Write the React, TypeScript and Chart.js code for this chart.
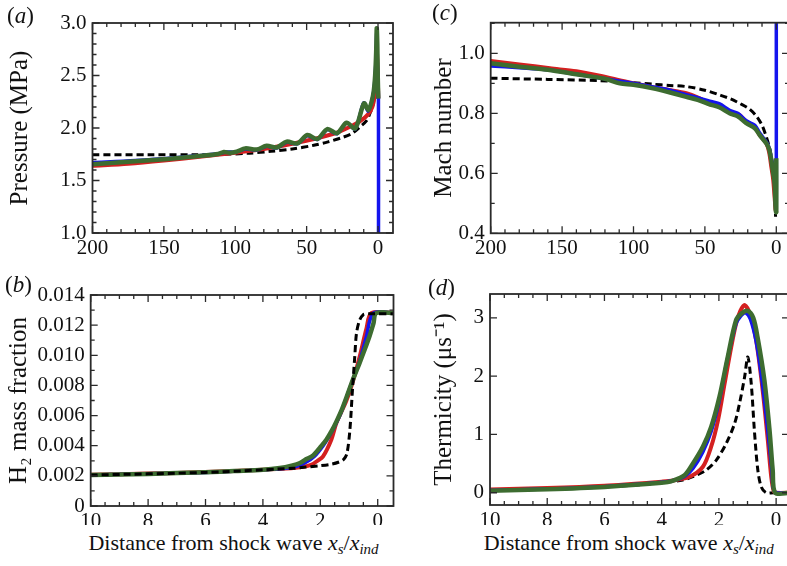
import React, { useEffect, useRef } from "react";
import { Chart, registerables } from "chart.js";
Chart.register(...registerables);

// ---------- colours ----------
const RED = "#d42020";
const BLUE = "#1414ee";
const GREEN = "#3d6c30";
const BLACK = "#000000";
const SERIF = "Liberation Serif";

// ---------- (a) pressure ----------
const pGreenX = [200, 185, 170, 155, 140, 125, 112, 108, 104, 99, 93, 85, 78, 71, 64, 56.5, 49.5, 42.5, 35.5, 28.8, 22, 16, 9.8, 6.8, 4.5, 3, 2, 1.3, 0.9, 0.5, 0.2, -0.2];
const pGreenY = [1.655, 1.668, 1.683, 1.698, 1.714, 1.733, 1.752, 1.772, 1.764, 1.775, 1.806, 1.795, 1.83, 1.814, 1.87, 1.853, 1.933, 1.895, 1.99, 1.95, 2.05, 1.995, 2.235, 2.17, 2.25, 2.35, 2.5, 2.72, 2.95, 2.8, 2.5, 2.28];
const pBlueX = [200, 170, 140, 112, 106, 100, 93, 85, 78, 71, 64, 56.5, 49.5, 42.5, 35.5, 28.8, 22, 16, 10, 7, 4.5, 3, 2, 1.3, 0.9, 0.4, -0.3, -0.3];
const pBlueY = [1.67, 1.69, 1.72, 1.755, 1.772, 1.77, 1.8, 1.79, 1.825, 1.81, 1.865, 1.85, 1.925, 1.89, 1.985, 1.945, 2.05, 1.99, 2.24, 2.16, 2.25, 2.35, 2.5, 2.7, 2.9, 2.6, 2.28, 0.5];
const pRedX = [200, 175, 150, 125, 100, 80, 60, 45, 30, 20, 12, 7, 4, 2.5, 1.5, 0.9, 0.4, -0.2];
const pRedY = [1.64, 1.66, 1.69, 1.725, 1.765, 1.8, 1.85, 1.895, 1.95, 2.01, 2.07, 2.13, 2.2, 2.3, 2.5, 2.75, 2.6, 2.28];
const pBlackX = [200, 160, 130, 110, 90, 75, 60, 45, 35, 25, 18, 12.6, 8, 5.6, 3.5, 2.1, 1.2, 0.5, 0];
const pBlackY = [1.745, 1.745, 1.746, 1.748, 1.76, 1.778, 1.8, 1.835, 1.868, 1.91, 1.95, 2.01, 2.07, 2.14, 2.22, 2.33, 2.42, 2.5, 2.5];

// ---------- (c) Mach number ----------
const mRedX = [200, 180, 158.5, 140, 123.6, 105, 88.6, 75, 63, 53.6, 46.6, 40, 32.7, 26, 21, 15, 11.7, 7, 5, 3.5, 2.2, 1.2, 0.5, 0];
const mRedY = [0.974, 0.963, 0.95, 0.94, 0.925, 0.905, 0.889, 0.878, 0.867, 0.85, 0.83, 0.825, 0.805, 0.795, 0.772, 0.755, 0.728, 0.7, 0.67, 0.622, 0.58, 0.522, 0.48, 0.47];
const mGreenX = [200, 180, 160, 140, 120, 109.6, 100, 86.3, 75, 63, 55, 46.6, 40, 32.7, 27, 21, 15, 11.7, 7, 5, 3.5, 2.2, 1.2, 0.4, 0, 0];
const mGreenY = [0.967, 0.955, 0.945, 0.93, 0.915, 0.9, 0.895, 0.883, 0.87, 0.855, 0.845, 0.83, 0.82, 0.8, 0.79, 0.767, 0.75, 0.728, 0.7, 0.68, 0.644, 0.6, 0.567, 0.478, 0.47, 0.65];
const mBlueX = [200, 180, 160, 140, 120, 100, 86.3, 75, 63, 55, 46.6, 40, 32.7, 27, 21, 15, 11.7, 7, 5, 3.5, 1.2, 0.3, 0, 0];
const mBlueY = [0.958, 0.952, 0.945, 0.93, 0.915, 0.9, 0.888, 0.878, 0.862, 0.852, 0.84, 0.832, 0.81, 0.8, 0.775, 0.76, 0.735, 0.705, 0.685, 0.65, 0.57, 0.48, 0.48, 1.15];
const mBlackX = [200, 160, 123.6, 100, 86.3, 75, 62.9, 50, 39.6, 32, 25.6, 19, 14, 10, 7, 5, 3.5, 2, 1.2, 0.5];
const mBlackY = [0.917, 0.913, 0.909, 0.902, 0.897, 0.893, 0.889, 0.877, 0.861, 0.848, 0.833, 0.815, 0.791, 0.76, 0.722, 0.69, 0.655, 0.61, 0.567, 0.455];

// ---------- (b) H2 mass fraction ----------
const hGreenX = [10, 8, 6, 5, 4, 3.41, 3, 2.71, 2.5, 2.25, 2, 1.79, 1.6, 1.44, 1.25, 1.09, 0.86, 0.63, 0.45, 0.28, 0.15, 0.05, -0.6];
const hGreenY = [0.00205, 0.00213, 0.00224, 0.00232, 0.0024, 0.00252, 0.00268, 0.00285, 0.0031, 0.00335, 0.0039, 0.0044, 0.005, 0.0056, 0.0064, 0.0072, 0.0084, 0.0095, 0.0104, 0.0113, 0.0121, 0.0128, 0.0128];
const hRedX = [10, 8, 6, 4, 3.2, 2.6, 2.3, 2.1, 1.91, 1.62, 1.44, 1.09, 0.86, 0.63, 0.39, 0.22, -0.6];
const hRedY = [0.00207, 0.00215, 0.00225, 0.0024, 0.00248, 0.0026, 0.00275, 0.003, 0.00327, 0.00438, 0.0055, 0.007, 0.0083, 0.0099, 0.0118, 0.0128, 0.0128];
const hBlueX = [10, 6, 4, 3.2, 2.8, 2.5, 2.2, 1.9, 1.7, 1.5, 1.3, 1.09, 0.86, 0.63, 0.4, 0.15, -0.6];
const hBlueY = [0.00205, 0.00223, 0.0024, 0.0025, 0.00265, 0.0029, 0.0033, 0.004, 0.0046, 0.0053, 0.0061, 0.0072, 0.0084, 0.0096, 0.0112, 0.0128, 0.0128];
const hBlackX = [10, 6, 4, 3.5, 2.95, 2.5, 2.02, 1.6, 1.32, 1.18, 1.07, 0.97, 0.88, 0.8, 0.74, 0.63, 0.5, 0.39, 0.2, -0.6];
const hBlackY = [0.00205, 0.00223, 0.0024, 0.00245, 0.0025, 0.00258, 0.00267, 0.00278, 0.00294, 0.0031, 0.0035, 0.00504, 0.0077, 0.0099, 0.01146, 0.01234, 0.0127, 0.01275, 0.01275, 0.01275];

// ---------- (d) thermicity ----------
const tRedX = [10, 8, 6, 4, 3.6, 3.02, 2.56, 2.27, 2.03, 1.8, 1.57, 1.4, 1.25, 1.1, 0.9, 0.7, 0.47, 0.29, 0.17, 0.08, 0, -0.5];
const tRedY = [0.058, 0.08, 0.12, 0.19, 0.21, 0.275, 0.446, 0.79, 1.246, 1.875, 2.5, 2.9, 3.12, 3.22, 3.05, 2.62, 1.76, 0.9, 0.27, 0.02, 0, 0];
const tGreenX = [10, 8, 6, 4, 3.6, 3.2, 2.91, 2.56, 2.27, 1.98, 1.69, 1.4, 1.2, 0.99, 0.8, 0.65, 0.41, 0.23, 0.12, 0.03, -0.5];
const tGreenY = [0.035, 0.06, 0.1, 0.17, 0.21, 0.3, 0.5, 0.79, 1.13, 1.646, 2.33, 2.96, 3.08, 3.12, 3.0, 2.67, 1.93, 1.07, 0.39, 0, 0];
const tBlueX = [10, 8, 6, 4, 3.6, 3.2, 2.9, 2.56, 2.27, 2.0, 1.7, 1.4, 1.2, 1.07, 0.9, 0.7, 0.5, 0.3, 0.15, 0.05, -0.5];
const tBlueY = [0.04, 0.065, 0.105, 0.18, 0.21, 0.28, 0.42, 0.7, 1.05, 1.55, 2.3, 2.9, 3.05, 3.09, 2.98, 2.6, 1.95, 1.1, 0.4, 0.02, 0];
const tBlackX = [10, 6, 4, 3.26, 2.91, 2.44, 2.09, 1.74, 1.45, 1.28, 1.1, 0.99, 0.87, 0.76, 0.64, 0.52, 0.35, 0.1, -0.5];
const tBlackY = [0.04, 0.1, 0.17, 0.22, 0.275, 0.39, 0.56, 0.85, 1.19, 1.53, 1.99, 2.33, 1.875, 1.07, 0.39, 0.1, 0, 0, 0];

// ---------- tick labels ----------
const farTicks = [200, 150, 100, 50, 0];
const nearTicks = [10, 8, 6, 4, 2, 0];
const pressureTicks = [1.0, 1.5, 2.0, 2.5, 3.0];
const machTicks = [0.4, 0.6, 0.8, 1.0];
const h2Ticks = [0, 0.002, 0.004, 0.006, 0.008, 0.01, 0.012, 0.014];
const thermTicks = [0, 1, 2, 3];

function steps(a: number, b: number, s: number) {
  const out: number[] = [];
  const n = Math.round((b - a) / s);
  for (let i = 0; i <= n; i++) out.push(+(a + i * s).toFixed(6));
  return out;
}

function pts(x: number[], y: number[]) {
  return x.map((v, i) => ({ x: v, y: y[i] }));
}

const frameTicks = {
  id: "frameTicks",
  afterDatasetsDraw(chart: any, _args: any, opts: any) {
    const { ctx, chartArea: a } = chart;
    const xs = chart.scales.x;
    const ys = chart.scales.y;
    ctx.save();
    ctx.strokeStyle = "#2a2a2a";
    ctx.lineWidth = 1.3;
    ctx.beginPath();
    const tx = (v: number, len: number) => {
      const p = xs.getPixelForValue(v);
      if (p < a.left - 0.5 || p > a.right + 0.5) return;
      ctx.moveTo(p, a.bottom);
      ctx.lineTo(p, a.bottom - len);
      ctx.moveTo(p, a.top);
      ctx.lineTo(p, a.top + len);
    };
    const ty = (v: number, len: number) => {
      const p = ys.getPixelForValue(v);
      if (p < a.top - 0.5 || p > a.bottom + 0.5) return;
      ctx.moveTo(a.left, p);
      ctx.lineTo(a.left + len, p);
      ctx.moveTo(a.right, p);
      ctx.lineTo(a.right - len, p);
    };
    (opts.xMinor || []).forEach((v: number) => tx(v, 4));
    (opts.xMajor || []).forEach((v: number) => tx(v, 7));
    (opts.yMinor || []).forEach((v: number) => ty(v, 4));
    (opts.yMajor || []).forEach((v: number) => ty(v, 7));
    ctx.stroke();
    ctx.lineWidth = 1.8;
    ctx.strokeRect(a.left, a.top, a.right - a.left, a.bottom - a.top);
    ctx.restore();
  },
};

type Line = { x: number[]; y: number[]; color: string; width: number; dash?: boolean };

type PanelCfg = {
  box: { l: number; t: number; w: number; h: number };
  plot: { l: number; t: number; r: number; b: number };
  lines: Line[];
  xMin: number;
  xMax: number;
  yMin: number;
  yMax: number;
  xTicks: number[];
  yTicks: number[];
  xMinor: number[];
  yMinor: number[];
  yFmt: (v: number) => string;
  yTitle: string;
  yTitlePad: number;
};

function Panel({ cfg }: { cfg: PanelCfg }) {
  const ref = useRef<HTMLCanvasElement>(null);
  useEffect(() => {
    const { box, plot } = cfg;
    const yW = plot.l - box.l;
    const xH = box.t + box.h - plot.b;
    const chart = new Chart(ref.current as HTMLCanvasElement, {
      type: "line",
      data: {
        datasets: cfg.lines.map((ln) => ({
          data: pts(ln.x, ln.y),
          borderColor: ln.color,
          borderWidth: ln.width,
          borderDash: ln.dash ? [7, 4] : [],
          borderCapStyle: "butt",
          borderJoinStyle: "round",
          pointRadius: 0,
          tension: 0.3,
          fill: false,
        })) as any,
      },
      plugins: [frameTicks as any],
      options: {
        animation: false,
        responsive: false,
        devicePixelRatio: 1,
        font: { family: SERIF },
        layout: {
          padding: { left: 0, top: plot.t - box.t, right: box.l + box.w - plot.r, bottom: 0 },
        },
        plugins: {
          legend: { display: false },
          tooltip: { enabled: false },
          frameTicks: { xMajor: cfg.xTicks, xMinor: cfg.xMinor, yMajor: cfg.yTicks, yMinor: cfg.yMinor },
        } as any,
        scales: {
          x: {
            type: "linear",
            reverse: true,
            min: cfg.xMin,
            max: cfg.xMax,
            grid: { display: false, drawTicks: false },
            border: { display: false },
            afterBuildTicks: (s: any) => {
              s.ticks = cfg.xTicks.map((v) => ({ value: v }));
            },
            afterFit: (s: any) => {
              s.height = xH;
            },
            ticks: {
              autoSkip: false,
              maxRotation: 0,
              padding: 3,
              color: "#111",
              font: { family: SERIF, size: 21 },
              callback: (v: any) => String(v),
            },
          },
          y: {
            type: "linear",
            min: cfg.yMin,
            max: cfg.yMax,
            grid: { display: false, drawTicks: false },
            border: { display: false },
            afterBuildTicks: (s: any) => {
              s.ticks = cfg.yTicks.map((v) => ({ value: v }));
            },
            afterFit: (s: any) => {
              s.width = yW;
            },
            ticks: {
              autoSkip: false,
              padding: 6,
              color: "#111",
              font: { family: SERIF, size: 21 },
              callback: (v: any) => cfg.yFmt(Number(v)),
            },
            title: {
              display: true,
              text: cfg.yTitle,
              color: "#111",
              font: { family: SERIF, size: 25 },
              padding: { top: cfg.yTitlePad, bottom: 0 },
            },
          },
        },
      } as any,
    });
    return () => chart.destroy();
  }, []);
  return (
    <canvas
      ref={ref}
      width={cfg.box.w}
      height={cfg.box.h}
      style={{ position: "absolute", left: cfg.box.l, top: cfg.box.t }}
    />
  );
}

const panels: PanelCfg[] = [
  {
    box: { l: 0, t: 0, w: 400, h: 265 },
    plot: { l: 92.5, t: 23, r: 393, b: 233 },
    lines: [
      { x: pGreenX, y: pGreenY, color: GREEN, width: 4.5 },
      { x: pBlueX, y: pBlueY, color: BLUE, width: 3.5 },
      { x: pRedX, y: pRedY, color: RED, width: 4 },
      { x: pBlackX, y: pBlackY, color: BLACK, width: 3, dash: true },
    ],
    xMin: -10.5,
    xMax: 200,
    yMin: 1.0,
    yMax: 3.0,
    xTicks: farTicks,
    yTicks: pressureTicks,
    xMinor: steps(0, 200, 10),
    yMinor: steps(1.0, 3.0, 0.1),
    yFmt: (v) => v.toFixed(1),
    yTitle: "Pressure (MPa)",
    yTitlePad: 5,
  },
  {
    box: { l: 400, t: 0, w: 395, h: 265 },
    plot: { l: 490.7, t: 22.7, r: 789, b: 233.3 },
    lines: [
      { x: mGreenX, y: mGreenY, color: GREEN, width: 4.5 },
      { x: mBlueX, y: mBlueY, color: BLUE, width: 3.5 },
      { x: mRedX, y: mRedY, color: RED, width: 4 },
      { x: mBlackX, y: mBlackY, color: BLACK, width: 3, dash: true },
    ],
    xMin: -8.9,
    xMax: 200,
    yMin: 0.4,
    yMax: 1.102,
    xTicks: farTicks,
    yTicks: machTicks,
    xMinor: steps(0, 200, 10),
    yMinor: steps(0.4, 1.1, 0.1),
    yFmt: (v) => v.toFixed(1),
    yTitle: "Mach number",
    yTitlePad: 29,
  },
  {
    box: { l: 0, t: 265, w: 400, h: 260 },
    plot: { l: 90.7, t: 295, r: 393.5, b: 506 },
    lines: [
      { x: hBlackX, y: hBlackY, color: BLACK, width: 3, dash: true },
      { x: hGreenX, y: hGreenY, color: GREEN, width: 4.5 },
      { x: hBlueX, y: hBlueY, color: BLUE, width: 3.5 },
      { x: hRedX, y: hRedY, color: RED, width: 4 },
    ],
    xMin: -0.55,
    xMax: 10,
    yMin: 0,
    yMax: 0.014,
    xTicks: nearTicks,
    yTicks: h2Ticks,
    xMinor: steps(0, 10, 0.5),
    yMinor: steps(0, 0.014, 0.001),
    yFmt: (v) => (v === 0 ? "0" : v.toFixed(3)),
    yTitle: "H\u2082 mass fraction",
    yTitlePad: 4,
  },
  {
    box: { l: 400, t: 265, w: 395, h: 260 },
    plot: { l: 490, t: 294, r: 789, b: 505 },
    lines: [
      { x: tGreenX, y: tGreenY, color: GREEN, width: 4.5 },
      { x: tBlueX, y: tBlueY, color: BLUE, width: 3.5 },
      { x: tRedX, y: tRedY, color: RED, width: 4 },
      { x: tBlackX, y: tBlackY, color: BLACK, width: 3, dash: true },
    ],
    xMin: -0.45,
    xMax: 10,
    yMin: -0.21,
    yMax: 3.41,
    xTicks: nearTicks,
    yTicks: thermTicks,
    xMinor: steps(0, 10, 0.5),
    yMinor: [],
    yFmt: (v) => String(Math.round(v)),
    yTitle: "Thermicity (\u03bcs\u207b\u00b9)",
    yTitlePad: 29,
  },
];

const sub: React.CSSProperties = { fontSize: "0.68em", position: "relative", top: "0.32em", fontStyle: "italic" };

function XTitle({ cx }: { cx: number }) {
  return (
    <div
      style={{
        position: "absolute",
        left: cx,
        top: 531.6,
        transform: "translateX(-50%)",
        whiteSpace: "nowrap",
        fontFamily: SERIF,
        fontSize: 22,
        lineHeight: "22px",
        color: "#111",
      }}
    >
      Distance from shock wave <i>x</i>
      <span style={sub}>s</span>/<i>x</i>
      <span style={sub}>ind</span>
    </div>
  );
}

function Tag({ l, t, letter }: { l: number; t: number; letter: string }) {
  return (
    <div
      style={{
        position: "absolute",
        left: l,
        top: t,
        fontFamily: SERIF,
        fontSize: 23,
        lineHeight: "22px",
        color: "#111",
        whiteSpace: "nowrap",
      }}
    >
      (<i>{letter}</i>)
    </div>
  );
}

export default function App() {
  return (
    <div
      style={{
        position: "absolute",
        left: 0,
        top: 0,
        width: 787,
        height: 566,
        overflow: "hidden",
        background: "#fff",
        fontFamily: SERIF,
      }}
    >
      {panels.map((p, i) => (
        <Panel key={i} cfg={p} />
      ))}
      <XTitle cx={233.5} />
      <XTitle cx={628.7} />
      <Tag l={7} t={4.8} letter="a" />
      <Tag l={5} t={273.8} letter="b" />
      <Tag l={432} t={1.6} letter="c" />
      <Tag l={428} t={276.8} letter="d" />
    </div>
  );
}
